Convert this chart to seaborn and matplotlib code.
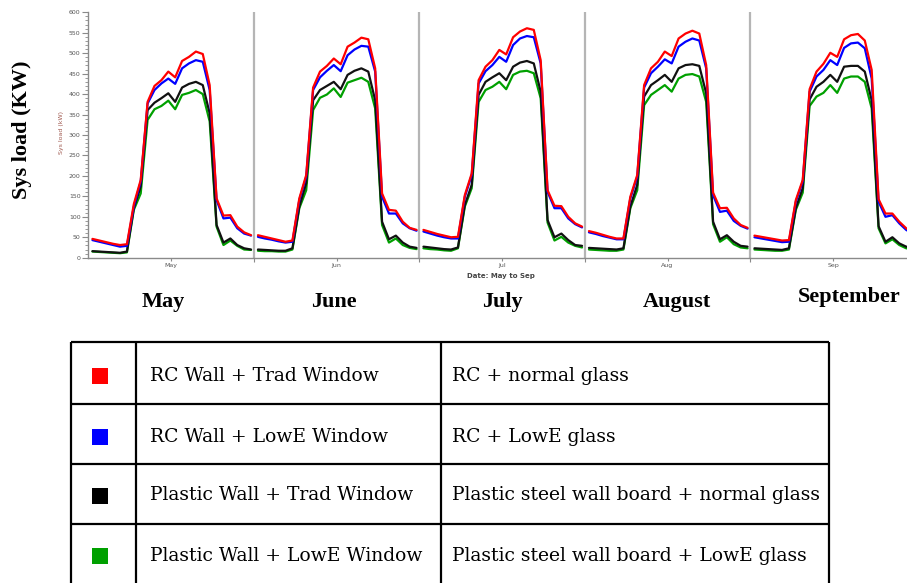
import numpy as np
import pandas as pd
import matplotlib
matplotlib.use("Agg")
import matplotlib.pyplot as plt
import seaborn as sns
from matplotlib.ticker import MultipleLocator, FixedLocator

# ---------------- data ----------------
months = ["May", "June", "July", "August", "September"]
month_ticks = ["May", "Jun", "Jul", "Aug", "Sep"]
hours = list(range(24))
series = ["RC Wall + Trad Window", "RC Wall + LowE Window",
          "Plastic Wall + Trad Window", "Plastic Wall + LowE Window"]
descriptions = ["RC + normal glass", "RC + LowE glass",
                "Plastic steel wall board + normal glass",
                "Plastic steel wall board + LowE glass"]
colors = ["#ff0000", "#0000ff", "#111111", "#00a000"]

may_red = [46, 42, 38, 34, 31, 33, 131, 190, 381, 420, 434, 455, 441, 481, 491, 504, 498, 422, 145, 103, 104, 76, 62, 55]
may_blue = [43, 39, 35, 31, 27, 29, 125, 186, 377, 410, 426, 438, 425, 463, 475, 483, 479, 410, 141, 96, 98, 72, 59, 54]
may_black = [16, 15, 14, 13, 12, 15, 121, 174, 361, 379, 390, 402, 381, 416, 425, 430, 422, 353, 80, 37, 47, 31, 23, 20]
may_green = [15, 14, 13, 12, 11, 13, 117, 157, 337, 363, 371, 384, 363, 398, 403, 410, 400, 333, 76, 31, 42, 29, 20, 19]

jun_red = [55, 51, 47, 43, 39, 42, 145, 202, 416, 455, 469, 487, 473, 516, 526, 538, 534, 463, 157, 117, 115, 88, 73, 68]
jun_blue = [51, 47, 44, 40, 37, 39, 141, 198, 410, 441, 457, 471, 456, 495, 509, 518, 516, 455, 149, 108, 108, 84, 72, 66]
jun_black = [20, 19, 18, 17, 17, 23, 125, 182, 385, 410, 420, 430, 412, 447, 457, 463, 455, 385, 88, 45, 54, 37, 27, 24]
jun_green = [17, 16, 16, 15, 15, 20, 121, 165, 361, 391, 399, 414, 393, 428, 434, 440, 430, 365, 80, 37, 47, 31, 24, 21]

jul_red = [68, 63, 58, 54, 50, 51, 153, 206, 434, 467, 483, 508, 497, 539, 553, 561, 557, 483, 165, 127, 126, 100, 84, 76]
jul_blue = [64, 59, 54, 50, 47, 47, 149, 202, 426, 456, 471, 491, 479, 520, 536, 542, 539, 475, 161, 121, 121, 96, 82, 74]
jul_black = [27, 25, 23, 21, 20, 25, 129, 178, 398, 430, 441, 451, 434, 467, 477, 481, 475, 406, 92, 50, 59, 43, 31, 29]
jul_green = [23, 21, 20, 18, 17, 23, 125, 170, 381, 410, 418, 430, 412, 447, 455, 457, 451, 390, 86, 42, 51, 37, 29, 25]

aug_red = [65, 61, 56, 51, 47, 47, 149, 202, 422, 463, 479, 504, 493, 536, 548, 555, 548, 471, 159, 121, 122, 96, 80, 73]
aug_blue = [62, 58, 53, 49, 45, 45, 145, 198, 416, 451, 467, 485, 475, 516, 528, 536, 531, 463, 153, 112, 115, 90, 78, 71]
aug_black = [24, 23, 22, 21, 20, 23, 125, 178, 394, 422, 434, 447, 430, 463, 471, 473, 469, 402, 88, 45, 55, 39, 29, 27]
aug_green = [20, 19, 18, 17, 17, 20, 121, 165, 373, 398, 410, 422, 406, 438, 447, 449, 443, 381, 82, 39, 50, 33, 25, 23]

sep_red = [54, 51, 48, 45, 42, 43, 141, 190, 412, 455, 474, 501, 491, 534, 544, 547, 531, 459, 143, 108, 108, 88, 72, 62]
sep_blue = [50, 47, 44, 41, 38, 39, 137, 186, 406, 443, 459, 483, 471, 513, 524, 526, 512, 438, 137, 100, 104, 84, 68, 58]
sep_black = [23, 22, 21, 20, 19, 23, 121, 170, 387, 418, 430, 447, 430, 467, 469, 469, 455, 385, 77, 39, 50, 35, 27, 24]
sep_green = [20, 19, 18, 17, 17, 20, 117, 159, 371, 394, 403, 422, 403, 438, 443, 443, 430, 365, 72, 35, 45, 31, 23, 21]

data = {
    "May": [may_red, may_blue, may_black, may_green],
    "June": [jun_red, jun_blue, jun_black, jun_green],
    "July": [jul_red, jul_blue, jul_black, jul_green],
    "August": [aug_red, aug_blue, aug_black, aug_green],
    "September": [sep_red, sep_blue, sep_black, sep_green],
}

rows = []
for mi, m in enumerate(months):
    for si, s in enumerate(series):
        for h in hours:
            rows.append({"month": m, "series": s, "x": mi * 24 + h + 0.6,
                         "load": data[m][si][h]})
df = pd.DataFrame(rows)

# ---------------- figure ----------------
sns.set_style("white")
W, H = 907, 583
fig = plt.figure(figsize=(W / 100, H / 100), dpi=100)

# page-level axes in pixel coordinates (labels + table)
pg = fig.add_axes([0, 0, 1, 1], zorder=0)
pg.set_xlim(0, W)
pg.set_ylim(H, 0)
pg.axis("off")

# chart axes
x0, x1, ytop, ybot = 88.3, 907.0, 12.3, 257.7
ax = fig.add_axes([x0 / W, 1 - ybot / H, (x1 - x0) / W, (ybot - ytop) / H], zorder=2)
ax.patch.set_alpha(0)
pal = dict(zip(series, colors))
order = [series[3], series[2], series[1], series[0]]
sns.lineplot(data=df, x="x", y="load", hue="series", units="month",
             estimator=None, palette=pal, hue_order=order, lw=1.6,
             legend=False, ax=ax, sort=False)
ax.set_xlim(0, (x1 - x0) / 6.896)
ax.set_ylim(0, 600)
for sp in ["top", "right"]:
    ax.spines[sp].set_visible(False)
for sp in ["left", "bottom"]:
    ax.spines[sp].set_color("#8a8a8a")
    ax.spines[sp].set_linewidth(1.0)
for k in range(1, 5):
    ax.axvline(24 * k, color="#b5b5b5", lw=1.6, zorder=0)
ax.set_xlabel("")
ax.set_ylabel("")
ax.xaxis.set_major_locator(FixedLocator([12 + 24 * k for k in range(5)]))
ax.set_xticklabels(month_ticks)
ax.xaxis.set_minor_locator(FixedLocator([24 * k for k in range(1, 5)]))
ax.tick_params(axis="x", which="major", length=2, width=0.8, color="#8a8a8a",
               labelsize=4.5, labelcolor="#555555", pad=2)
ax.tick_params(axis="x", which="minor", length=3, width=0.8, color="#8a8a8a")
ax.yaxis.set_major_locator(MultipleLocator(50))
ax.yaxis.set_minor_locator(MultipleLocator(10))
ax.tick_params(axis="y", which="major", length=4, width=0.8, color="#8a8a8a",
               labelsize=4.5, labelcolor="#555555", pad=1.5)
ax.tick_params(axis="y", which="minor", length=2, width=0.6, color="#8a8a8a")
ax.tick_params(bottom=True, left=True, which="both")

fig.text(62 / W, 1 - 133 / H, "Sys load (kW)", rotation=90, ha="center", va="center",
         fontsize=4.5, color="#a05a50")
fig.text(501 / W, 1 - 276 / H, "Date: May to Sep", ha="center", va="center",
         fontsize=5, fontweight="bold", color="#444444")

# big labels
pg.text(22, 130, "Sys load (KW)", rotation=90, ha="center", va="center",
        fontsize=16, fontweight="bold", family="Liberation Serif", color="black")
month_pos = [(163, 302), (334, 302), (502, 302), (677, 302), (849, 297)]
for m, (px, py) in zip(months, month_pos):
    pg.text(px, py, m, ha="center", va="center", fontsize=16, fontweight="bold",
            family="Liberation Serif", color="black")

# table
tl, c1, c2, tr = 70.7, 136.0, 440.7, 828.5
row_y = [342.3, 404.0, 463.7, 524.0, 590.0]
lw = 1.6
for xv in [tl, c1, c2, tr]:
    pg.plot([xv, xv], [row_y[0], row_y[-1]], color="black", lw=lw, solid_capstyle="butt")
for yv in row_y[:-1]:
    pg.plot([tl, tr], [yv, yv], color="black", lw=lw, solid_capstyle="butt")
centers = [376.0, 436.5, 495.5, 556.0]
for i in range(4):
    cy = centers[i]
    pg.add_patch(plt.Rectangle((100 - 8, cy - 8), 16, 16, color=colors[i] if i != 2 else "#000000", lw=0))
    pg.text(150.5, cy, series[i], ha="left", va="center", fontsize=13.5,
            family="DejaVu Serif", color="black")
    pg.text(452, cy, descriptions[i], ha="left", va="center", fontsize=13.5,
            family="DejaVu Serif", color="black")

fig.savefig("out.png", dpi=100)
